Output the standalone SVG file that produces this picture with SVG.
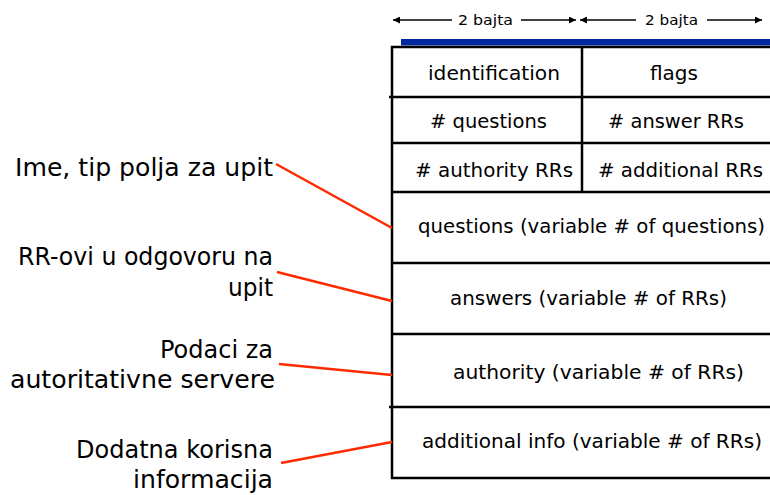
<svg xmlns="http://www.w3.org/2000/svg" width="770" height="495" viewBox="0 0 770 495">
<style>
  text { font-family: "DejaVu Sans", "Liberation Sans", sans-serif; fill: #000; }
  .dim { font-size: 14px; }
  .cell { font-size: 19px; }
  .lbl { font-size: 24px; text-anchor: end; }
  .grid { fill: none; stroke: #000; stroke-width: 2.5; }
  .dimline { stroke: #000; stroke-width: 1.4; fill: none; }
  .conn { stroke: #ff2a00; stroke-width: 2.5; fill: none; }
</style>
<defs>
  <marker id="ah" viewBox="0 0 10 10" refX="10" refY="5" markerWidth="9" markerHeight="7" markerUnits="userSpaceOnUse" orient="auto">
    <path d="M0,0 L10,5 L0,10 z" fill="#000"/>
  </marker>
</defs>
<rect width="770" height="495" fill="#fff"/>

<g id="dimensions">
  <line class="dimline" x1="452" y1="20" x2="393" y2="20" marker-end="url(#ah)"/>
  <text class="dim" x="458" y="25" textLength="55" lengthAdjust="spacingAndGlyphs">2 bajta</text>
  <line class="dimline" x1="521" y1="20" x2="576" y2="20" marker-end="url(#ah)"/>
  <line class="dimline" x1="636" y1="20" x2="580" y2="20" marker-end="url(#ah)"/>
  <text class="dim" x="645" y="25" textLength="53" lengthAdjust="spacingAndGlyphs">2 bajta</text>
  <line class="dimline" x1="707" y1="20" x2="762" y2="20" marker-end="url(#ah)"/>
</g>

<rect id="header-bar" x="401" y="39" width="369" height="6.5" fill="#00299f"/>

<g id="table-frame">
  <rect class="grid" x="392" y="47" width="400" height="431"/>
  <line class="grid" x1="389" y1="97" x2="770" y2="97"/>
  <line class="grid" x1="392" y1="143" x2="770" y2="143"/>
  <line class="grid" x1="392" y1="192" x2="770" y2="192"/>
  <line class="grid" x1="392" y1="263" x2="770" y2="263"/>
  <line class="grid" x1="392" y1="334" x2="770" y2="334"/>
  <line class="grid" x1="389" y1="407" x2="770" y2="407"/>
  <line class="grid" x1="582" y1="47" x2="582" y2="192"/>
</g>

<g id="identification"><text class="cell" x="428" y="80" textLength="132" lengthAdjust="spacingAndGlyphs">identification</text></g>
<g id="flags"><text class="cell" x="650" y="80" textLength="48" lengthAdjust="spacingAndGlyphs">flags</text></g>
<g id="num-questions"><text class="cell" x="430" y="128" textLength="117" lengthAdjust="spacingAndGlyphs"># questions</text></g>
<g id="num-answer"><text class="cell" x="608" y="128" textLength="136" lengthAdjust="spacingAndGlyphs"># answer RRs</text></g>
<g id="num-authority"><text class="cell" x="415" y="177" textLength="158" lengthAdjust="spacingAndGlyphs"># authority RRs</text></g>
<g id="num-additional"><text class="cell" x="598" y="177" textLength="165" lengthAdjust="spacingAndGlyphs"># additional RRs</text></g>
<g id="questions"><text class="cell" x="418" y="233" textLength="347" lengthAdjust="spacingAndGlyphs">questions (variable # of questions)</text></g>
<g id="answers"><text class="cell" x="450" y="305" textLength="277" lengthAdjust="spacingAndGlyphs">answers (variable # of RRs)</text></g>
<g id="authority"><text class="cell" x="453" y="379" textLength="291" lengthAdjust="spacingAndGlyphs">authority (variable # of RRs)</text></g>
<g id="additional"><text class="cell" x="422" y="448" textLength="340" lengthAdjust="spacingAndGlyphs">additional info (variable # of RRs)</text></g>

<g id="label-questions"><text class="lbl" x="273" y="176" textLength="258" lengthAdjust="spacingAndGlyphs">Ime, tip polja za upit</text></g>
<g id="label-answers">
  <text class="lbl" x="273" y="265" textLength="255" lengthAdjust="spacingAndGlyphs">RR-ovi u odgovoru na</text>
  <text class="lbl" x="273" y="296" textLength="45" lengthAdjust="spacingAndGlyphs">upit</text>
</g>
<g id="label-authority">
  <text class="lbl" x="273" y="358" textLength="113" lengthAdjust="spacingAndGlyphs">Podaci za</text>
  <text class="lbl" x="275" y="388" textLength="265" lengthAdjust="spacingAndGlyphs">autoritativne servere</text>
</g>
<g id="label-additional">
  <text class="lbl" x="273" y="458" textLength="197" lengthAdjust="spacingAndGlyphs">Dodatna korisna</text>
  <text class="lbl" x="273" y="488" textLength="140" lengthAdjust="spacingAndGlyphs">informacija</text>
</g>

<g id="connectors">
  <line class="conn" x1="276" y1="164" x2="392" y2="228"/>
  <line class="conn" x1="277" y1="272" x2="392" y2="301"/>
  <line class="conn" x1="279" y1="364" x2="392" y2="375"/>
  <line class="conn" x1="281" y1="463" x2="392" y2="442"/>
</g>
</svg>
